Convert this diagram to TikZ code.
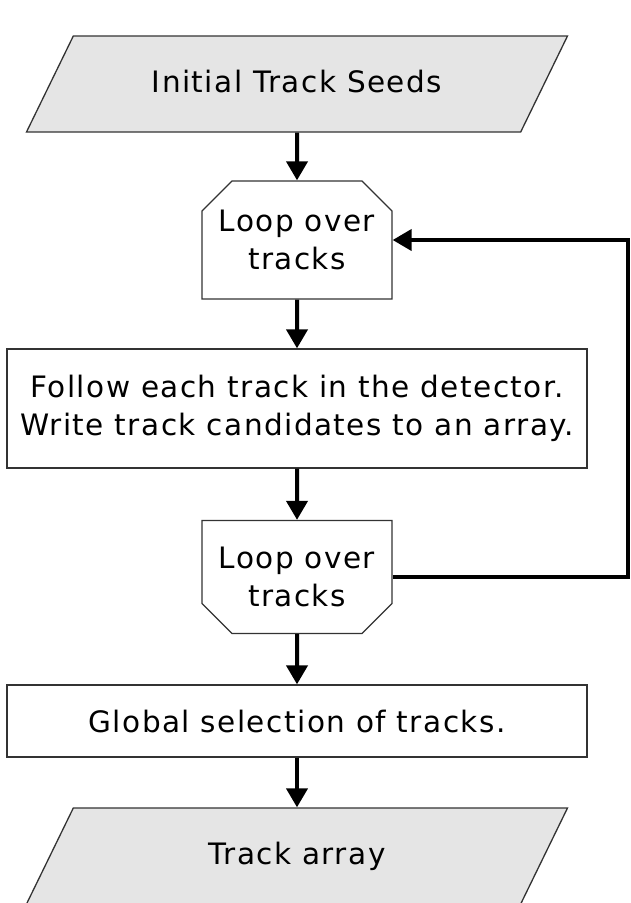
\documentclass[tikz,border=0pt]{standalone}
\usepackage{fontspec}
\setmainfont[LetterSpace=5]{DejaVu Sans}
\usetikzlibrary{shapes.geometric,shapes.misc,arrows.meta}
\begin{document}
\begin{tikzpicture}[x=1pt,y=-1pt,
    every node/.style={font=\fontsize{29.5}{37.5}\selectfont, align=center,
      draw=black!80, line width=1.3pt, inner sep=0pt},
    io/.style={trapezium, trapezium left angle=64, trapezium right angle=116,
      trapezium stretches body, text height=21pt, text depth=5pt, inner ysep=35pt,
      minimum width=541pt, fill=black!10},
    loopstart/.style={chamfered rectangle, chamfered rectangle sep=15pt,
      chamfered rectangle corners={north west,north east}, minimum width=190pt},
    loopend/.style={chamfered rectangle, chamfered rectangle sep=15pt,
      chamfered rectangle corners={south west,south east}, minimum width=190pt},
    proc/.style={rectangle, minimum width=580pt},
    conn/.style={line width=4pt, black, -{Triangle[length=19pt,width=21pt]}}]
  \useasboundingbox (0,0) rectangle (630,903);
  \node[io] (seeds) at (297,84) {Initial Track Seeds};
  \node[loopstart, minimum height=118pt] (loop1) at (297,240) {Loop over\\tracks};
  \node[proc, minimum height=119pt] (follow) at (297,408.5)
    {Follow each track in the detector.\\Write track candidates to an array.};
  \node[loopend, minimum height=113pt] (loop2) at (297,577) {Loop over\\tracks};
  \node[proc, minimum height=72pt] (select) at (297,721) {Global selection of tracks.};
  \node[io] (result) at (297,856) {Track array};
  \coordinate (rail) at (628,0);
  \draw[conn] (seeds) -- (loop1);
  \draw[conn] (loop1) -- (follow);
  \draw[conn] (follow) -- (loop2);
  \draw[conn] (loop2) -- (select);
  \draw[conn] (select) -- (result);
  \draw[conn] (loop2.east) -- (loop2.east -| rail) -- (loop1.east -| rail) -- (loop1.east);
\end{tikzpicture}
\end{document}
